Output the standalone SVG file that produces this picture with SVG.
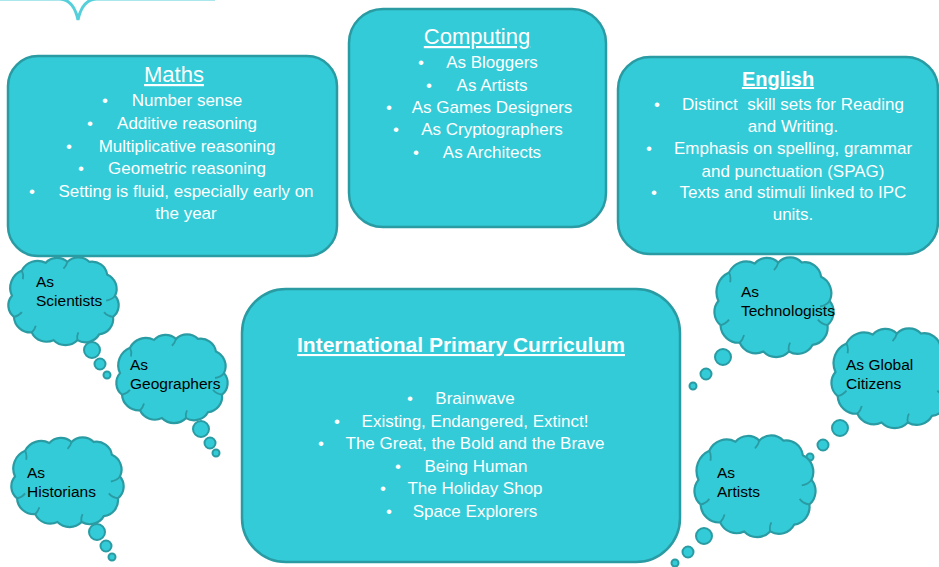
<svg xmlns="http://www.w3.org/2000/svg" xmlns:xlink="http://www.w3.org/1999/xlink" width="939" height="567" viewBox="0 0 939 567">
<style>
.box{fill:#32cbd7;stroke:#2a9ba3;stroke-width:2.5}
.cl{fill:#32cbd7;stroke:#2a9ba3;stroke-width:2.2;vector-effect:non-scaling-stroke}
.curl{fill:none;stroke:#2a9ba3;stroke-width:1.8;vector-effect:non-scaling-stroke}
.bub{fill:#32cbd7;stroke:#2a9ba3;stroke-width:2}
.t{font-family:"Liberation Sans",Arial,sans-serif;font-size:17px;fill:#ffffff;text-anchor:middle}
.ttl{font-family:"Liberation Sans",Arial,sans-serif;font-size:22px;fill:#ffffff;text-anchor:middle;text-decoration:underline}
.ttlb{font-family:"Liberation Sans",Arial,sans-serif;font-size:20px;font-weight:bold;fill:#ffffff;text-anchor:middle;text-decoration:underline}
.ct{font-family:"Liberation Sans",Arial,sans-serif;font-size:15.5px;fill:#000000}
</style>
<defs>
<symbol id="cloud" viewBox="3 0 114 91" preserveAspectRatio="none" overflow="visible">
<path class="cl" d="M8,40 A19.5,19.5 0 0 1 18,14 A17.7,17.7 0 0 1 42,6 A15.4,15.4 0 0 1 64,5 A15.4,15.4 0 0 1 86,5 A15.5,15.5 0 0 1 104,18 A16.4,16.4 0 0 1 112,40 A15.5,15.5 0 0 1 110,62 A16,16 0 0 1 96,80 A16,16 0 0 1 74,86 A16.8,16.8 0 0 1 50,86 A16.4,16.4 0 0 1 28,78 A16.9,16.9 0 0 1 10,62 A15.5,15.5 0 0 1 8,40 Z"/>
<path class="curl" d="M112,40 q-3,4 -9,5 M110,62 q-6,-1 -9,-5 M10,62 q5,-1 8,-5 M18,14 q2,4 1,9 M64,5 q-1,4 -4,7 M74,86 q-1,-4 1,-8 M28,78 q3,-3 4,-7"/>
</symbol>
</defs>

<path d="M0,-1 L60,-1 Q74,0 78,20 Q82,0 96,-1 L215,-1" fill="none" stroke="#55d0da" stroke-width="3"/>

<g id="node-maths">
<rect class="box" x="8" y="56" width="329" height="200" rx="30"/>
<text class="ttl" x="174" y="82">Maths</text>
<text class="t" x="105" y="106">•</text><text class="t" x="187" y="106">Number sense</text>
<text class="t" x="90" y="129">•</text><text class="t" x="187" y="129">Additive reasoning</text>
<text class="t" x="69" y="152">•</text><text class="t" x="187" y="152">Multiplicative reasoning</text>
<text class="t" x="81" y="174">•</text><text class="t" x="187" y="174">Geometric reasoning</text>
<text class="t" x="32" y="197">•</text><text class="t" x="186" y="197">Setting is fluid, especially early on</text>
<text class="t" x="186" y="219">the year</text>
</g>

<g id="node-computing">
<rect class="box" x="349" y="9" width="257" height="218" rx="34"/>
<text class="ttl" x="477" y="44">Computing</text>
<text class="t" x="421" y="68">•</text><text class="t" x="492" y="68">As Bloggers</text>
<text class="t" x="429" y="91">•</text><text class="t" x="492" y="91">As Artists</text>
<text class="t" x="389" y="113">•</text><text class="t" x="492" y="113">As Games Designers</text>
<text class="t" x="396" y="135">•</text><text class="t" x="492" y="135">As Cryptographers</text>
<text class="t" x="416" y="158">•</text><text class="t" x="492" y="158">As Architects</text>
</g>

<g id="node-english">
<rect class="box" x="618" y="57" width="320" height="197" rx="32"/>
<text class="ttlb" x="778" y="86">English</text>
<text class="t" x="657" y="110">•</text><text class="t" x="793" y="110" xml:space="preserve">Distinct  skill sets for Reading</text>
<text class="t" x="793" y="132">and Writing.</text>
<text class="t" x="649" y="154">•</text><text class="t" x="793" y="154">Emphasis on spelling, grammar</text>
<text class="t" x="793" y="177">and punctuation (SPAG)</text>
<text class="t" x="654" y="198">•</text><text class="t" x="793" y="198">Texts and stimuli linked to IPC</text>
<text class="t" x="793" y="220">units.</text>
</g>

<g id="node-ipc">
<rect class="box" x="242" y="289" width="438" height="273" rx="44"/>
<text class="ttlb" x="461" y="352" style="font-size:21px">International Primary Curriculum</text>
<text class="t" x="410" y="404">•</text><text class="t" x="475" y="404">Brainwave</text>
<text class="t" x="337" y="427">•</text><text class="t" x="475" y="427">Existing, Endangered, Extinct!</text>
<text class="t" x="321" y="449">•</text><text class="t" x="475" y="449">The Great, the Bold and the Brave</text>
<text class="t" x="398" y="472">•</text><text class="t" x="476" y="472">Being Human</text>
<text class="t" x="383" y="494">•</text><text class="t" x="475" y="494">The Holiday Shop</text>
<text class="t" x="389" y="517">•</text><text class="t" x="475" y="517">Space Explorers</text>
</g>

<g id="connectors">
<circle class="bub" cx="92" cy="350" r="8"/><circle class="bub" cx="100" cy="364" r="5.5"/><circle class="bub" cx="107" cy="375" r="3.5"/>
<circle class="bub" cx="201" cy="429" r="8"/><circle class="bub" cx="210" cy="443" r="5.5"/><circle class="bub" cx="216" cy="453" r="3.5"/>
<circle class="bub" cx="97" cy="532" r="8"/><circle class="bub" cx="106" cy="546" r="5.5"/><circle class="bub" cx="112" cy="557" r="3.5"/>
<circle class="bub" cx="723" cy="357" r="8"/><circle class="bub" cx="706" cy="374" r="5.5"/><circle class="bub" cx="693" cy="386" r="3.5"/>
<circle class="bub" cx="840" cy="428" r="8"/><circle class="bub" cx="823" cy="445" r="5.5"/><circle class="bub" cx="810" cy="457" r="3.5"/>
<circle class="bub" cx="704" cy="536" r="8"/><circle class="bub" cx="688" cy="552" r="5.5"/><circle class="bub" cx="675" cy="563" r="3.5"/>
</g>

<g id="node-scientists">
<use xlink:href="#cloud" x="7" y="257" width="113" height="88"/>
<text class="ct" x="36" y="287">As</text><text class="ct" x="36" y="306">Scientists</text>
</g>
<g id="node-geographers">
<use xlink:href="#cloud" x="115" y="334" width="114" height="89"/>
<text class="ct" x="130" y="370">As</text><text class="ct" x="130" y="389">Geographers</text>
</g>
<g id="node-historians">
<use xlink:href="#cloud" x="10" y="437" width="115" height="90"/>
<text class="ct" x="27" y="478">As</text><text class="ct" x="27" y="497">Historians</text>
</g>
<g id="node-technologists">
<use xlink:href="#cloud" x="713" y="257" width="122" height="100"/>
<text class="ct" x="741" y="297">As</text><text class="ct" x="741" y="316">Technologists</text>
</g>
<g id="node-global-citizens">
<use xlink:href="#cloud" x="830" y="328" width="125" height="100"/>
<text class="ct" x="846" y="370">As Global</text><text class="ct" x="846" y="389">Citizens</text>
</g>
<g id="node-artists">
<use xlink:href="#cloud" x="693" y="435" width="124" height="102"/>
<text class="ct" x="717" y="478">As</text><text class="ct" x="717" y="497">Artists</text>
</g>
</svg>
